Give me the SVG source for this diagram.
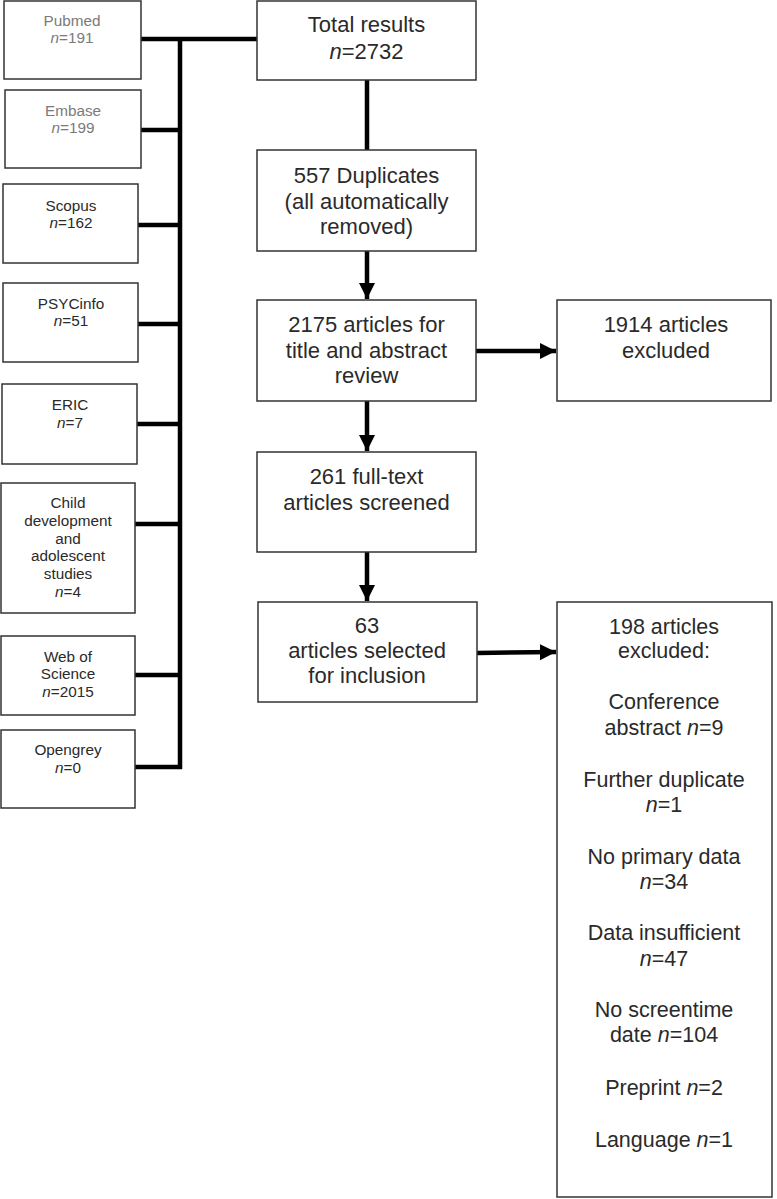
<svg xmlns="http://www.w3.org/2000/svg" width="777" height="1199" viewBox="0 0 777 1199">
<style>
.box{fill:#fff;stroke:#333;stroke-width:1.5}
.t{font-family:"Liberation Sans",Arial,sans-serif;fill:#2a2a2a;text-anchor:middle}
.s{font-size:15.3px}
.l{font-size:22px}
.m{font-size:21.5px}
.g{fill:#7a7a7a}
.c{stroke:#000;stroke-width:4.5;fill:none}
.i{font-style:italic}
</style>
<defs>
<marker id="ah" markerWidth="4" markerHeight="4" refX="3.6" refY="2" orient="auto" markerUnits="strokeWidth" viewBox="0 0 4 4">
<path d="M0,0.2 L3.6,2 L0,3.8 Z" fill="#000"/>
</marker>
</defs>
<rect width="777" height="1199" fill="#fff"/>
<g id="connectors">
<line class="c" x1="180" y1="37" x2="180" y2="769"/>
<line class="c" x1="141" y1="39" x2="257" y2="39"/>
<line class="c" x1="141" y1="130" x2="180" y2="130"/>
<line class="c" x1="138" y1="225" x2="180" y2="225"/>
<line class="c" x1="138" y1="324" x2="180" y2="324"/>
<line class="c" x1="137" y1="424" x2="180" y2="424"/>
<line class="c" x1="135" y1="524" x2="180" y2="524"/>
<line class="c" x1="135" y1="675" x2="180" y2="675"/>
<line class="c" x1="135" y1="767" x2="182" y2="767"/>
<line class="c" x1="367" y1="80" x2="367" y2="150"/>
<line class="c" x1="367" y1="251" x2="367" y2="299" marker-end="url(#ah)"/>
<line class="c" x1="367" y1="401" x2="367" y2="451" marker-end="url(#ah)"/>
<line class="c" x1="367" y1="552" x2="367" y2="601" marker-end="url(#ah)"/>
<line class="c" x1="476" y1="351" x2="556" y2="351" marker-end="url(#ah)"/>
<line class="c" x1="477" y1="653" x2="556" y2="652" marker-end="url(#ah)"/>
</g>
<g id="pubmed"><rect class="box" x="4" y="1" width="137" height="78"/>
<text class="t s g" x="72" y="26">Pubmed</text><text class="t s g" x="72" y="43"><tspan class="i">n</tspan>=191</text></g>
<g id="embase"><rect class="box" x="5" y="90" width="136" height="78"/>
<text class="t s g" x="73" y="116">Embase</text><text class="t s g" x="73" y="133"><tspan class="i">n</tspan>=199</text></g>
<g id="scopus"><rect class="box" x="3" y="184" width="135" height="79"/>
<text class="t s" x="71" y="211">Scopus</text><text class="t s" x="71" y="228"><tspan class="i">n</tspan>=162</text></g>
<g id="psycinfo"><rect class="box" x="3" y="283" width="135" height="79"/>
<text class="t s" x="71" y="308.5">PSYCinfo</text><text class="t s" x="71" y="326"><tspan class="i">n</tspan>=51</text></g>
<g id="eric"><rect class="box" x="2" y="384" width="135" height="80"/>
<text class="t s" x="70" y="410">ERIC</text><text class="t s" x="70" y="428"><tspan class="i">n</tspan>=7</text></g>
<g id="child"><rect class="box" x="1" y="483" width="134" height="130"/>
<text class="t s" x="68" y="508">Child</text>
<text class="t s" x="68" y="526">development</text>
<text class="t s" x="68" y="543.5">and</text>
<text class="t s" x="68" y="561">adolescent</text>
<text class="t s" x="68" y="578.5">studies</text>
<text class="t s" x="68" y="597"><tspan class="i">n</tspan>=4</text></g>
<g id="wos"><rect class="box" x="1" y="636" width="134" height="79"/>
<text class="t s" x="68" y="662">Web of</text><text class="t s" x="68" y="679">Science</text><text class="t s" x="68" y="697"><tspan class="i">n</tspan>=2015</text></g>
<g id="opengrey"><rect class="box" x="1" y="730" width="134" height="78"/>
<text class="t s" x="68" y="755">Opengrey</text><text class="t s" x="68" y="773"><tspan class="i">n</tspan>=0</text></g>
<g id="total"><rect class="box" x="257" y="1" width="219" height="79"/>
<text class="t l" x="366.5" y="32">Total results</text><text class="t l" x="366.5" y="59"><tspan class="i">n</tspan>=2732</text></g>
<g id="duplicates"><rect class="box" x="257" y="150" width="219" height="101"/>
<text class="t l" x="366.5" y="183">557 Duplicates</text><text class="t l" x="366.5" y="209">(all automatically</text><text class="t l" x="366.5" y="234">removed)</text></g>
<g id="title-abstract"><rect class="box" x="257" y="300" width="219" height="101"/>
<text class="t l" x="366.5" y="332">2175 articles for</text><text class="t l" x="366.5" y="358">title and abstract</text><text class="t l" x="366.5" y="383">review</text></g>
<g id="excluded1914"><rect class="box" x="557" y="300" width="214" height="101"/>
<text class="t l" x="666" y="332">1914 articles</text><text class="t l" x="666" y="358">excluded</text></g>
<g id="fulltext"><rect class="box" x="257" y="452" width="219" height="100"/>
<text class="t l" x="366.5" y="484">261 full-text</text><text class="t l" x="366.5" y="510">articles screened</text></g>
<g id="selected"><rect class="box" x="258" y="602" width="219" height="100"/>
<text class="t l" x="367" y="633">63</text><text class="t l" x="367" y="658">articles selected</text><text class="t l" x="367" y="683">for inclusion</text></g>
<g id="excluded198"><rect class="box" x="557" y="602" width="215" height="595"/>
<text class="t m" x="664" y="634">198 articles</text>
<text class="t m" x="664" y="658">excluded:</text>
<text class="t m" x="664" y="709">Conference</text>
<text class="t m" x="664" y="735">abstract <tspan class="i">n</tspan>=9</text>
<text class="t m" x="664" y="787">Further duplicate</text>
<text class="t m" x="664" y="812"><tspan class="i">n</tspan>=1</text>
<text class="t m" x="664" y="864">No primary data</text>
<text class="t m" x="664" y="889"><tspan class="i">n</tspan>=34</text>
<text class="t m" x="664" y="940">Data insufficient</text>
<text class="t m" x="664" y="966"><tspan class="i">n</tspan>=47</text>
<text class="t m" x="664" y="1017">No screentime</text>
<text class="t m" x="664" y="1042">date <tspan class="i">n</tspan>=104</text>
<text class="t m" x="664" y="1095">Preprint <tspan class="i">n</tspan>=2</text>
<text class="t m" x="664" y="1147">Language <tspan class="i">n</tspan>=1</text>
</g>
</svg>
